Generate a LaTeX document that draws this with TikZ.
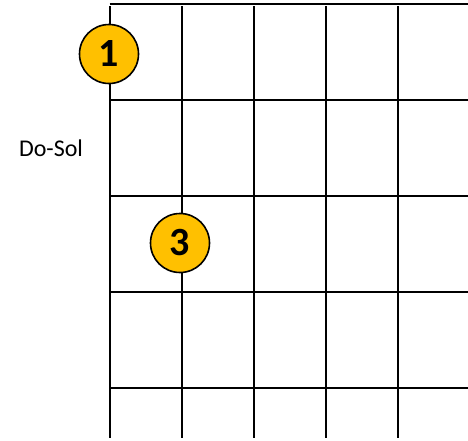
\documentclass[tikz,border=0pt]{standalone}
\usepackage{fontspec}
\setmainfont{Carlito}
\usetikzlibrary{positioning}
\definecolor{ink}{RGB}{0,0,0}
\definecolor{amber}{RGB}{255,192,0}
\tikzset{
  every picture/.style={color=ink, line width=2pt},
  fret/.style={line width=2pt, color=ink},
  finger/.style={circle, draw=ink, line width=1.6pt, fill=amber, minimum size=59pt, inner sep=0pt, font=\fontsize{40}{40}\selectfont\bfseries},
  tag/.style={font=\fontsize{24}{24}\selectfont, inner sep=0pt},
}
\begin{document}
\begin{tikzpicture}[x=1pt, y=-1pt]
  \useasboundingbox (0,0) rectangle (468,440);
  % strings and frets of the chord box
  \foreach \x in {109.5,181.5,253.5,325.5,397.5} { \draw[fret] (\x,6) -- (\x,438); }
  \foreach \y in {4,100,196,292,388} { \draw[fret] (109.5,\y) -- (468,\y); }
  % fingers
  \node[finger] (f1) at (109,54) {1};
  \node[finger] (f3) at (180,243) {3};
  \node[tag] (chord) at (51,148) {Do-Sol};
\end{tikzpicture}
\end{document}
